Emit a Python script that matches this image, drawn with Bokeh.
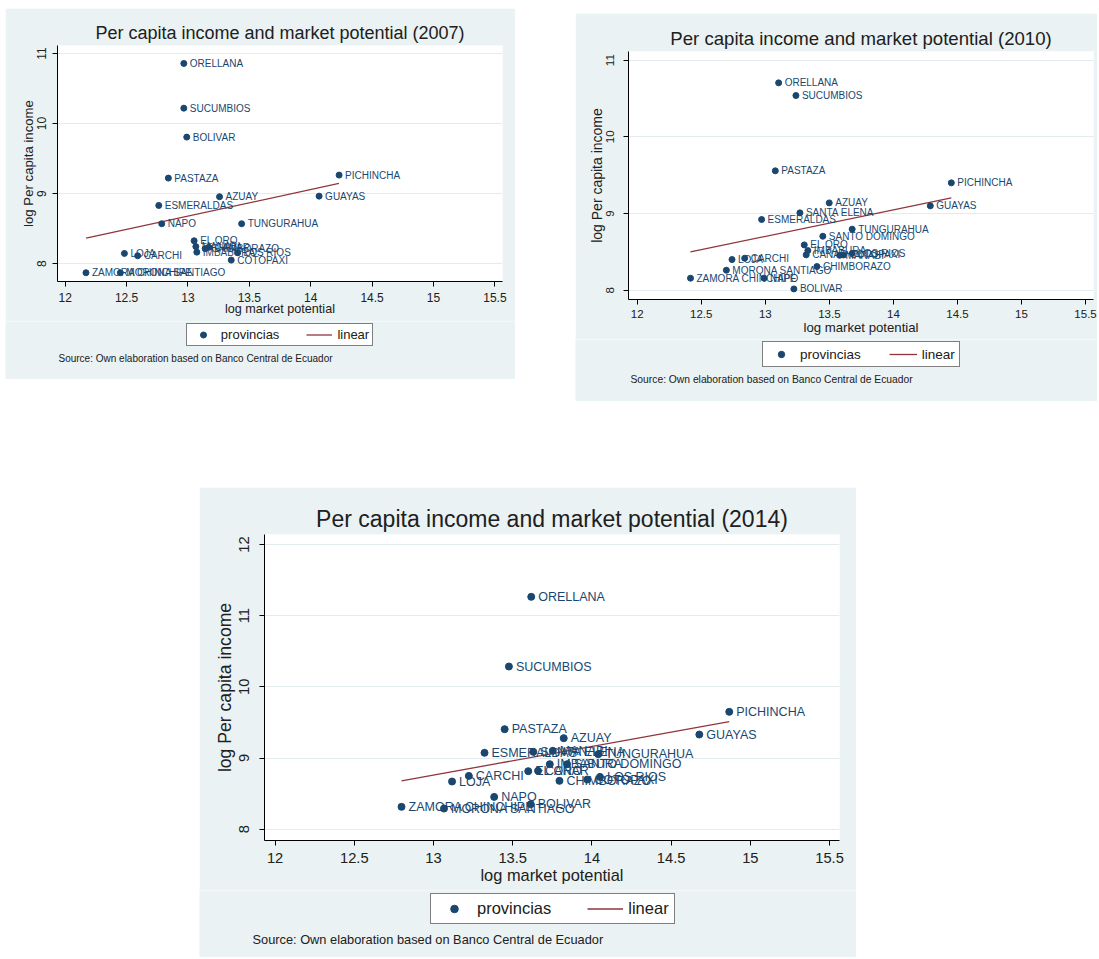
from bokeh.plotting import figure
from bokeh.models import (ColumnDataSource, Range1d, FixedTicker, CustomJSTickFormatter,
                          Legend, LegendItem, Label, Spacer)
from bokeh.layouts import row, column
from bokeh.core.properties import value
from bokeh.embed import file_html
from bokeh.resources import INLINE

# ---------------- data ----------------
x_ticks = [12, 12.5, 13, 13.5, 14, 14.5, 15, 15.5]
y_ticks_2007 = [8, 9, 10, 11]
y_ticks_2010 = [8, 9, 10, 11]
y_ticks_2014 = [8, 9, 10, 11, 12]

names_2007 = ["AZUAY", "BOLIVAR", "CAÑAR", "CARCHI", "CHIMBORAZO", "COTOPAXI", "EL ORO",
              "ESMERALDAS", "GUAYAS", "IMBABURA", "LOJA", "LOS RIOS", "MANABI",
              "MORONA SANTIAGO", "NAPO", "ORELLANA", "PASTAZA", "PICHINCHA", "SUCUMBIOS",
              "TUNGURAHUA", "ZAMORA CHINCHIPE"]
mp_2007 = [13.257, 12.990, 13.170, 12.590, 13.140, 13.352, 13.050,
           12.762, 14.068, 13.072, 12.482, 13.404, 13.064,
           12.449, 12.786, 12.966, 12.840, 14.231, 12.966,
           13.437, 12.169]
inc_2007 = [8.956, 9.807, 8.235, 8.114, 8.215, 8.052, 8.328,
            8.832, 8.965, 8.166, 8.147, 8.157, 8.245,
            7.872, 8.571, 10.858, 9.222, 9.265, 10.220,
            8.571, 7.872]
fit_x_2007 = [12.17, 14.23]
fit_y_2007 = [8.366, 9.146]

names_2010 = ["AZUAY", "BOLIVAR", "CAÑAR", "CARCHI", "CHIMBORAZO", "COTOPAXI", "EL ORO",
              "ESMERALDAS", "GUAYAS", "IMBABURA", "LOJA", "LOS RIOS", "MANABI",
              "MORONA SANTIAGO", "NAPO", "ORELLANA", "PASTAZA", "PICHINCHA", "SANTA ELENA",
              "SANTO DOMINGO", "SUCUMBIOS", "TUNGURAHUA", "ZAMORA CHINCHIPE"]
mp_2010 = [13.499, 13.223, 13.319, 12.839, 13.403, 13.610, 13.304,
           12.971, 14.288, 13.332, 12.740, 13.678, 13.580,
           12.696, 12.990, 13.104, 13.078, 14.452, 13.270,
           13.449, 13.239, 13.678, 12.416]
inc_2010 = [9.139, 8.017, 8.461, 8.417, 8.309, 8.460, 8.591,
            8.922, 9.100, 8.517, 8.400, 8.480, 8.455,
            8.261, 8.157, 10.704, 9.557, 9.400, 9.009,
            8.704, 10.539, 8.796, 8.157]
fit_x_2010 = [12.416, 14.452]
fit_y_2010 = [8.500, 9.204]

names_2014 = ["AZUAY", "BOLIVAR", "CAÑAR", "CARCHI", "CHIMBORAZO", "COTOPAXI", "EL ORO",
              "ESMERALDAS", "GUAYAS", "IMBABURA", "LOJA", "LOS RIOS", "MANABI",
              "MORONA SANTIAGO", "NAPO", "ORELLANA", "PASTAZA", "PICHINCHA", "SANTA ELENA",
              "SANTO DOMINGO", "SUCUMBIOS", "TUNGURAHUA", "ZAMORA CHINCHIPE"]
mp_2014 = [13.822, 13.614, 13.660, 13.223, 13.795, 13.971, 13.598,
           13.322, 14.678, 13.734, 13.117, 14.051, 13.753,
           13.066, 13.383, 13.617, 13.449, 14.867, 13.630,
           13.843, 13.476, 14.040, 12.798]
inc_2014 = [9.279, 8.351, 8.820, 8.749, 8.679, 8.698, 8.815,
            9.073, 9.330, 8.913, 8.670, 8.735, 9.101,
            8.290, 8.454, 11.265, 9.405, 9.649, 9.087,
            8.913, 10.286, 9.054, 8.314]
fit_x_2014 = [12.798, 14.867]
fit_y_2014 = [8.679, 9.513]

legend_labels = ["provincias", "linear"]

# ---------------- style ----------------
BG = "#EAF2F3"
NAVY = "#1A476F"
MAROON = "#90353B"
TXT = "#202020"
FONT = "Liberation Sans"
NOTE = "Source: Own elaboration based on Banco Central de Ecuador"
EM_PROV = 4.501   # width of "provincias" in em (Arial metrics)
EM_LIN = 2.445    # width of "linear" in em


def main_fig(year, names, xs, ys, fx, fy, yticks, width, height, xr, yr, borders, s):
    bl, br, bt, bb = borders
    p = figure(width=width, height=height, x_range=Range1d(*xr), y_range=Range1d(*yr),
               output_backend="svg", toolbar_location=None,
               min_border_left=bl, min_border_right=br, min_border_top=bt, min_border_bottom=bb,
               background_fill_color="white", border_fill_color=BG, outline_line_color=None)
    p.frame_align = False
    p.title.text = "Per capita income and market potential (%d)" % year
    p.title.align = "center"
    p.title.text_font = FONT
    p.title.text_font_style = "normal"
    p.title.text_font_size = "%.1fpx" % s["title"]
    p.title.text_color = TXT
    p.title.standoff = s["title_standoff"]

    for ax in (p.xaxis[0], p.yaxis[0]):
        ax.axis_line_color = "#000000"
        ax.major_tick_line_color = "#000000"
        ax.minor_tick_line_color = None
        ax.major_tick_out = 5
        ax.major_tick_in = 0
        ax.major_label_text_font = FONT
        ax.major_label_text_font_size = "%.1fpx" % s["tick"]
        ax.major_label_text_color = TXT
        ax.axis_label_text_font = FONT
        ax.axis_label_text_font_style = "normal"
        ax.axis_label_text_font_size = "%.1fpx" % s["axlab"]
        ax.axis_label_text_color = TXT
        ax.formatter = CustomJSTickFormatter(code="return String(tick);")
    p.xaxis.ticker = FixedTicker(ticks=x_ticks)
    p.yaxis.ticker = FixedTicker(ticks=yticks)
    p.xaxis.axis_label = "log market potential"
    p.yaxis.axis_label = "log Per capita income"
    p.yaxis.axis_label_text_font_size = "%.1fpx" % s["ylab"]
    p.yaxis.major_label_orientation = "vertical"
    p.xaxis.major_label_standoff = s["xstand"]
    p.yaxis.major_label_standoff = s["ystand"]
    p.xaxis.axis_label_standoff = s["xlabstand"]
    p.yaxis.axis_label_standoff = s["ylabstand"]
    p.xgrid.visible = False
    p.ygrid.ticker = FixedTicker(ticks=yticks)
    p.ygrid.grid_line_color = "#E3EBEE"
    p.ygrid.grid_line_width = 1

    src = ColumnDataSource(dict(x=xs, y=ys, name=names))
    p.line(fx, fy, line_color=MAROON, line_width=1.3)
    p.scatter("x", "y", source=src, size=s["marker"], fill_color=NAVY, line_color=NAVY)
    p.text("x", "y", text="name", source=src, x_offset=s["lab_off"], text_baseline="middle",
           text_align="left", text_font=value(FONT), text_font_size=value("%.1fpx" % s["lab"]),
           text_color=NAVY)
    return p


def bottom_fig(width, height, xs, ys, fx, fy, s):
    """Area under the axis: boxed legend and source note."""
    b = figure(width=width, height=height, x_range=Range1d(0, width), y_range=Range1d(0, height),
               output_backend="svg", toolbar_location=None, x_axis_type=None, y_axis_type=None,
               min_border=0, background_fill_color=BG, border_fill_color=BG,
               outline_line_color=None)
    b.frame_align = False
    b.grid.visible = False
    # hidden proxy renderers (same data and style) that only feed the legend glyphs
    sc = b.scatter(xs, ys, size=s["marker"], fill_color=NAVY, line_color=NAVY, visible=False)
    ln = b.line(fx, fy, line_color=MAROON, line_width=1.3, visible=False)
    fs = s["leg"]
    lw = 2 * s["pad"] + 2 * s["gw"] + 2 * 5 + s["spacing"] + fs * (EM_PROV + EM_LIN)
    leg = Legend(items=[LegendItem(label=legend_labels[0], renderers=[sc]),
                        LegendItem(label=legend_labels[1], renderers=[ln])],
                 orientation="horizontal", location=(s["leg_cx"] - lw / 2.0, s["leg_y"]),
                 label_text_font=FONT, label_text_font_size="%.1fpx" % fs,
                 label_text_color=TXT, glyph_width=s["gw"], glyph_height=s["gh"],
                 label_height=s["gh"], label_standoff=5, spacing=s["spacing"],
                 padding=s["pad"], margin=0, inactive_fill_alpha=0,
                 border_line_color="#000000", border_line_width=1,
                 background_fill_color="white", background_fill_alpha=1)
    b.add_layout(leg, "center")
    note = Label(x=s["note_x"], y=s["note_y"], x_units="screen", y_units="screen", text=NOTE,
                 text_font=FONT, text_font_size="%.1fpx" % s["note"], text_color=TXT,
                 text_baseline="middle", text_align="left")
    b.add_layout(note, "center")
    return b


s1 = dict(title=18, title_standoff=5, tick=12, axlab=12.6, ylab=13.2, lab=10, leg=13, note=10,
          marker=6, lab_off=6, xstand=6, ystand=6, xlabstand=-3, ylabstand=-1,
          gw=26, gh=15, spacing=27, pad=3, leg_cx=273.5, leg_y=33, note_x=53, note_y=21)
s2 = dict(title=18.6, title_standoff=5, tick=11.5, axlab=13.2, ylab=14, lab=10, leg=13.5, note=10.3,
          marker=6, lab_off=6, xstand=5, ystand=9, xlabstand=-1, ylabstand=-1,
          gw=28, gh=16, spacing=28, pad=4, leg_cx=284.8, leg_y=34, note_x=55, note_y=22)
s3 = dict(title=23, title_standoff=6, tick=14.7, axlab=16.4, ylab=17.6, lab=12.5, leg=16.5,
          note=12.8, marker=7, lab_off=7, xstand=7, ystand=10, xlabstand=0, ylabstand=2,
          gw=36, gh=19, spacing=36, pad=5, leg_cx=352.3, leg_y=33, note_x=53, note_y=18)

p1 = main_fig(2007, names_2007, mp_2007, inc_2007, fit_x_2007, fit_y_2007, y_ticks_2007,
              510, 313, (11.937, 15.562), (7.747, 11.114), (52, 13, 37, 40), s1)
b1 = bottom_fig(510, 58, mp_2007, inc_2007, fit_x_2007, fit_y_2007, s1)
p2 = main_fig(2010, names_2010, mp_2010, inc_2010, fit_x_2010, fit_y_2010, y_ticks_2010,
              522, 326, (11.932, 15.562), (7.879, 11.113), (53, 4, 38, 40), s2)
b2 = bottom_fig(522, 62, mp_2010, inc_2010, fit_x_2010, fit_y_2010, s2)
p3 = main_fig(2014, names_2014, mp_2014, inc_2014, fit_x_2014, fit_y_2014, y_ticks_2014,
              657, 403, (11.933, 15.563), (7.841, 12.141), (65, 17, 47, 50), s3)
b3 = bottom_fig(657, 67, mp_2014, inc_2014, fit_x_2014, fit_y_2014, s3)

layout = column(
    Spacer(width=10, height=8),
    row(Spacer(width=5, height=10), column(p1, b1), Spacer(width=60, height=10),
        column(Spacer(width=10, height=5), p2, b2)),
    Spacer(width=10, height=86),
    row(Spacer(width=199, height=10), column(p3, b3)),
)

open("out.html", "w").write(file_html(layout, INLINE))
